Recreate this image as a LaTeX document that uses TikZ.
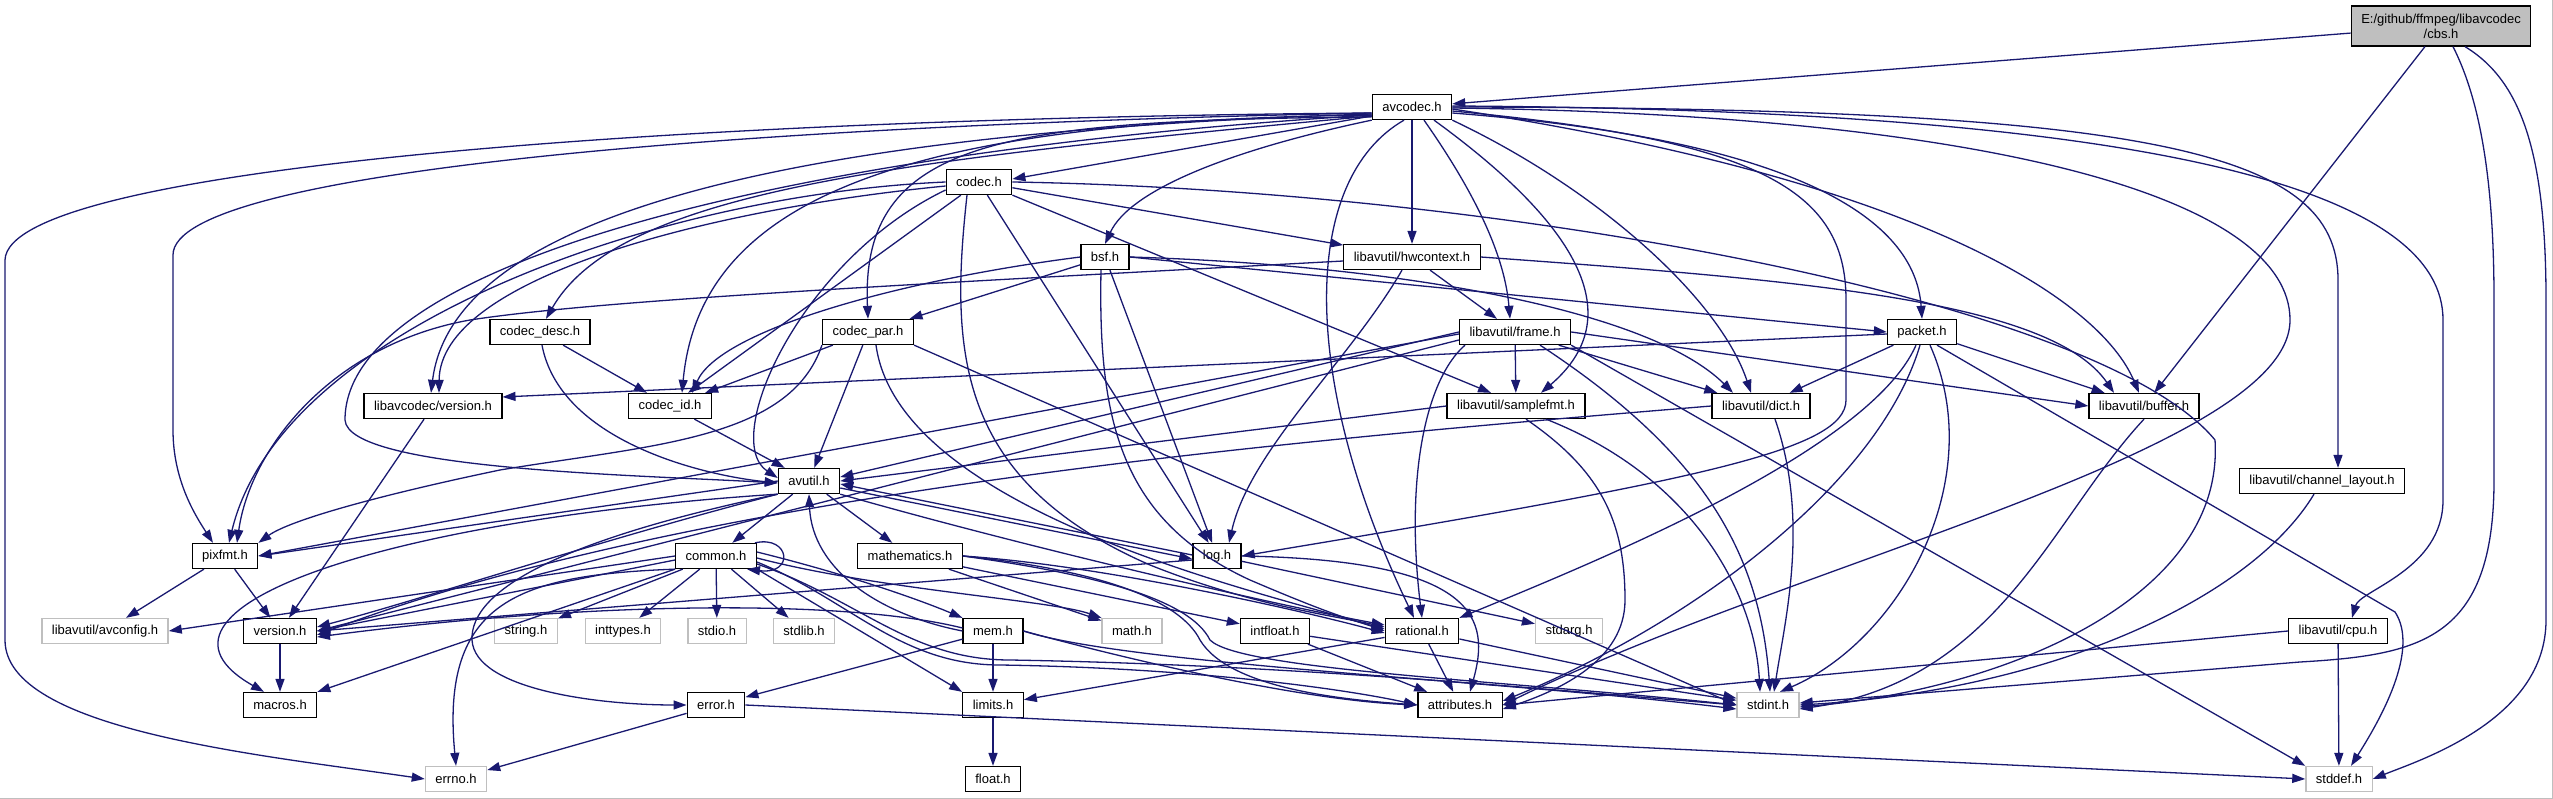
\documentclass[tikz,border=0pt]{standalone}
\usepackage{fontspec}
\newfontfamily\hdrfont{Liberation Sans}
\usetikzlibrary{arrows.meta}
\definecolor{edgeblue}{HTML}{191970}
\definecolor{sysgray}{HTML}{BFBFBF}

\begin{document}
\begin{tikzpicture}[x=1pt, y=-1pt,
  hdr/.style={draw=black, line width=1.3pt, fill=white, minimum height=25pt,
    inner xsep=10pt, inner ysep=0pt, font=\hdrfont\fontsize{13pt}{15pt}\selectfont},
  sys/.style={hdr, draw=sysgray},
  dep/.style={draw=edgeblue, line width=1.3pt, -{Triangle[length=13pt,width=9pt]}}]
\useasboundingbox (0,0) rectangle (2553,799);
\draw[sysgray, line width=1pt] (0,798) -- (2552,798) -- (2552,0);

% headers, row by row
\node[hdr, fill=sysgray, align=center, minimum height=40pt] (cbs) at (2441,26) {E:/github/ffmpeg/libavcodec\\/cbs.h};
\node[hdr] (avcodec) at (1412,107) {avcodec.h};
\node[hdr] (codec) at (979,182) {codec.h};
\node[hdr] (bsf) at (1105,257) {bsf.h};
\node[hdr] (hwctx) at (1412,257) {libavutil/hwcontext.h};
\node[hdr] (desc) at (540,332) {codec\_desc.h};
\node[hdr] (par) at (868,332) {codec\_par.h};
\node[hdr] (frame) at (1515,332) {libavutil/frame.h};
\node[hdr] (packet) at (1922,332) {packet.h};
\node[hdr] (lacver) at (433,406) {libavcodec/version.h};
\node[hdr] (codecid) at (670,406) {codec\_id.h};
\node[hdr] (sfmt) at (1516,406) {libavutil/samplefmt.h};
\node[hdr] (dict) at (1761,406) {libavutil/dict.h};
\node[hdr] (buffer) at (2144,406) {libavutil/buffer.h};
\node[hdr] (avutil) at (809,481) {avutil.h};
\node[hdr] (chlayout) at (2322,481) {libavutil/channel\_layout.h};
\node[hdr] (pixfmt) at (225,556) {pixfmt.h};
\node[hdr] (common) at (716,556) {common.h};
\node[hdr] (mathem) at (910,556) {mathematics.h};
\node[hdr] (log) at (1217,556) {log.h};
\node[sys] (avconfig) at (105,631) {libavutil/avconfig.h};
\node[hdr] (version) at (280,631) {version.h};
\node[sys] (string) at (526,631) {string.h};
\node[sys] (inttypes) at (623,631) {inttypes.h};
\node[sys] (stdio) at (717,631) {stdio.h};
\node[sys] (stdlib) at (804,631) {stdlib.h};
\node[hdr] (mem) at (993,631) {mem.h};
\node[sys] (mathh) at (1132,631) {math.h};
\node[hdr] (intfloat) at (1275,631) {intfloat.h};
\node[hdr] (rational) at (1422,631) {rational.h};
\node[sys] (stdarg) at (1569,631) {stdarg.h};
\node[hdr] (cpu) at (2338,631) {libavutil/cpu.h};
\node[hdr] (macros) at (280,705) {macros.h};
\node[hdr] (error) at (716,705) {error.h};
\node[hdr] (limits) at (993,705) {limits.h};
\node[hdr] (attrib) at (1460,705) {attributes.h};
\node[sys] (stdint) at (1768,705) {stdint.h};
\node[sys] (errno) at (456,779) {errno.h};
\node[hdr] (float) at (993,779) {float.h};
\node[sys] (stddef) at (2339,779) {stddef.h};

% straight includes
\foreach \a/\b in {cbs/avcodec, cbs/buffer, avcodec/hwctx, codec/hwctx, codec/codecid, codec/log,
    bsf/par, bsf/log, hwctx/frame, desc/codecid, par/codecid, par/avutil, frame/sfmt, frame/dict,
    packet/dict, packet/buffer, lacver/version, codecid/avutil, avutil/common, avutil/mathem,
    pixfmt/avconfig, pixfmt/version, common/string, common/inttypes, common/stdio, common/stdlib,
    mathem/mathh, mathem/intfloat, log/stdarg, mem/error, mem/limits, intfloat/attrib,
    intfloat/stdint, rational/limits, rational/attrib, rational/stdint, version/macros,
    error/errno, limits/float, cpu/stddef}
  \draw[dep] (\a) -- (\b);

\draw[dep] ([yshift=-9pt]avcodec.west) -- ([yshift=3pt]codec.east);
\draw[dep] (codec.south east) -- ([xshift=-25pt]sfmt.north);
\draw[dep] (bsf.east) -- (packet.west);
\draw[dep] (par.south east) -- (stdint.west);
\draw[dep] (frame.east) -- (buffer.west);
\draw[dep] (frame.south east) -- (stddef.north west);
\draw[dep] (frame.west) -- ([yshift=4pt]avutil.east);
\draw[dep] ([yshift=-2pt]frame.west) -- (pixfmt.east);
\draw[dep] ([yshift=-8pt]frame.west) -- (version.east);
\draw[dep] ([yshift=-2pt]packet.west) -- ([yshift=9pt]lacver.east);
\draw[dep] (sfmt.west) -- (avutil.east);
\draw[dep] ([yshift=-7pt]avutil.east) -- ([yshift=-3pt]log.west);
\draw[dep] ([yshift=1pt]log.west) -- ([yshift=-3pt]avutil.east);
\draw[dep] (avutil.west) -- (pixfmt.east);
\draw[dep] (common.west) -- (avconfig.east);
\draw[dep] ([yshift=-4pt]common.west) -- (version.east);
\draw[dep] (common.south west) -- (macros.north east);
\draw[dep] (common.south east) -- (limits.north west);
\draw[dep] ([yshift=-4pt]log.west) -- (version.east);
\draw[dep] (cpu.west) -- (attrib.east);
\draw[dep] (error.east) -- (stddef.west);

% cbs.h down the right side
\draw[dep] ([xshift=12pt]cbs.south) .. controls (2480,100) and (2494,180) .. (2494,300) -- (2494,480)
  .. controls (2494,640) and (2420,655) .. (2300,662) -- ([yshift=2pt]stdint.east);
\draw[dep] ([xshift=24pt]cbs.south) .. controls (2520,80) and (2546,150) .. (2546,300) -- (2546,620)
  .. controls (2546,720) and (2420,760) .. (stddef.east);

% avcodec.h, left side
\draw[dep] ([yshift=-6pt]avcodec.west) .. controls (700,118) and (8,165) .. (5,260) -- (5,640)
  .. controls (5,730) and (260,755) .. (errno.west);
\draw[dep] ([yshift=-6pt]avcodec.west) .. controls (750,125) and (173,170) .. (173,255) -- (173,430)
  .. controls (173,480) and (195,515) .. ([xshift=-12pt]pixfmt.north);
\draw[dep] ([yshift=-7pt]avcodec.west) .. controls (850,130) and (455,200) .. ([xshift=-2pt]lacver.north);
\draw[dep] ([yshift=-8pt]avcodec.west) .. controls (900,120) and (700,200) .. ([xshift=12pt]codecid.north);
\draw[dep] ([yshift=-8pt]avcodec.west) .. controls (800,150) and (345,260) .. (345,420)
  .. controls (348,470) and (640,475) .. ([yshift=-2pt]avutil.west);
\draw[dep] ([yshift=-9pt]avcodec.west) .. controls (900,160) and (620,190) .. ([xshift=6pt]desc.north);
\draw[dep] ([yshift=-10pt]avcodec.west) .. controls (1000,120) and (860,140) .. (par.north);
\draw[dep] (avcodec.south west) .. controls (1230,150) and (1130,190) .. (bsf.north);
\draw[dep] ([xshift=-8pt]avcodec.south) .. controls (1300,180) and (1300,380) .. ([xshift=-8pt]rational.north);
\draw[dep] ([xshift=12pt]avcodec.south) .. controls (1480,200) and (1505,260) .. ([xshift=-5pt]frame.north);
\draw[dep] ([xshift=22pt]avcodec.south) .. controls (1530,190) and (1650,300) .. ([xshift=25pt]sfmt.north);
% avcodec.h, right side
\draw[dep] (avcodec.south east) .. controls (1600,190) and (1720,300) .. ([xshift=-10pt]dict.north);
\draw[dep] ([yshift=-6pt]avcodec.east) .. controls (1800,140) and (1915,220) .. (packet.north);
\draw[dep] ([yshift=-2pt]avcodec.east) .. controls (1920,180) and (2100,300) .. ([xshift=-5pt]buffer.north);
\draw[dep] ([yshift=-4pt]avcodec.east) .. controls (1760,140) and (1846,190) .. (1846,300) -- (1846,400)
  .. controls (1846,450) and (1700,480) .. (log.east);
\draw[dep] ([yshift=-1pt]avcodec.east) .. controls (2000,115) and (2290,200) .. (2290,320)
  .. controls (2290,450) and (1800,560) .. (attrib.east);
\draw[dep] (avcodec.east) .. controls (2150,108) and (2338,150) .. (2338,280) -- ([xshift=16pt]chlayout.north);
\draw[dep] ([yshift=1pt]avcodec.east) .. controls (2200,110) and (2443,200) .. (2443,320) -- (2443,500)
  .. controls (2443,570) and (2360,590) .. ([xshift=14pt]cpu.north);

% codec.h
\draw[dep] (codec.west) .. controls (650,195) and (280,330) .. ([xshift=4pt]pixfmt.north);
\draw[dep] ([yshift=-4pt]codec.west) .. controls (700,210) and (440,280) .. ([xshift=6pt]lacver.north);
\draw[dep] ([yshift=-8pt]codec.west) .. controls (800,260) and (720,440) .. ([yshift=3pt]avutil.west);
\draw[dep] (codec.east) .. controls (1500,190) and (2100,300) .. (2215,440)
  .. controls (2225,600) and (2000,690) .. ([yshift=-2pt]stdint.east);
\draw[dep] ([xshift=-12pt]codec.south) .. controls (950,350) and (955,480) .. (1150,565)
  .. controls (1250,605) and (1330,615) .. ([yshift=4pt]rational.west);

% bsf.h, hwcontext.h
\draw[dep] (bsf.west) .. controls (900,280) and (720,330) .. ([xshift=22pt]codecid.north);
\draw[dep] (bsf.east) .. controls (1400,265) and (1650,310) .. ([xshift=-28pt]dict.north);
\draw[dep] ([xshift=-4pt]bsf.south) .. controls (1098,420) and (1120,520) .. (1250,580)
  .. controls (1320,610) and (1350,620) .. ([yshift=2pt]rational.west);
\draw[dep] ([yshift=-4pt]hwctx.west) .. controls (900,285) and (600,300) .. (470,320)
  .. controls (330,345) and (250,450) .. ([xshift=12pt]pixfmt.north);
\draw[dep] ([xshift=-10pt]hwctx.south) .. controls (1350,360) and (1250,450) .. ([xshift=12pt]log.north);
\draw[dep] (hwctx.east) .. controls (1800,280) and (2050,300) .. ([xshift=-30pt]buffer.north);

% second level
\draw[dep] ([xshift=2pt]desc.south) .. controls (560,440) and (700,475) .. ([yshift=-2pt]avutil.west);
\draw[dep] (par.south west) .. controls (790,440) and (650,445) .. (500,470)
  .. controls (380,495) and (290,520) .. (pixfmt.north east);
\draw[dep] ([xshift=8pt]par.south) .. controls (900,520) and (1300,600) .. (rational.west);
\draw[dep] ([xshift=-50pt]frame.south) .. controls (1425,380) and (1405,480) .. (rational.north);
\draw[dep] ([xshift=25pt]frame.south) .. controls (1700,450) and (1760,550) .. ([xshift=2pt]stdint.north);
\draw[dep] ([xshift=-6pt]packet.south) .. controls (1870,450) and (1600,560) .. (rational.north east);
\draw[dep] ([xshift=-2pt]packet.south) .. controls (1880,480) and (1700,620) .. ([yshift=4pt]attrib.east);
\draw[dep] ([xshift=8pt]packet.south) .. controls (1990,480) and (1900,640) .. ([xshift=12pt]stdint.north);
\draw[dep] ([xshift=15pt]packet.south) -- (2395,612) .. controls (2420,650) and (2380,720) .. ([xshift=12pt]stddef.north);
\draw[dep] ([xshift=10pt]sfmt.south) .. controls (1600,470) and (1625,520) .. (1625,600)
  .. controls (1625,660) and (1560,690) .. ([yshift=-4pt]attrib.east);
\draw[dep] ([xshift=30pt]sfmt.south) .. controls (1700,480) and (1755,600) .. ([xshift=-8pt]stdint.north);
\draw[dep] ([xshift=14pt]dict.south) .. controls (1810,520) and (1785,620) .. ([xshift=6pt]stdint.north);
\draw[dep] (dict.west) .. controls (1300,440) and (700,490) .. ([yshift=-4pt]version.east);
\draw[dep] (buffer.south) .. controls (2050,520) and (2000,680) .. ([yshift=-4pt]stdint.east);
\draw[dep] ([xshift=-8pt]chlayout.south) .. controls (2250,600) and (2050,690) .. (stdint.east);

% avutil.h and below
\draw[dep] (avutil.south west) .. controls (600,540) and (420,600) .. ([yshift=4pt]version.east);
\draw[dep] (avutil.south west) .. controls (380,520) and (120,610) .. ([xshift=-16pt]macros.north);
\draw[dep] (avutil.south west) .. controls (560,540) and (470,590) .. (472,640)
  .. controls (475,690) and (600,705) .. (error.west);
\draw[dep] (avutil.south east) .. controls (1000,540) and (1250,600) .. ([yshift=6pt]rational.west);
\draw[dep] (common.south west) .. controls (520,575) and (440,600) .. (errno.north);
\draw[dep] ([yshift=4pt]common.east) .. controls (850,575) and (920,600) .. (mem.north west);
\draw[dep] ([yshift=-2pt]common.east) .. controls (880,590) and (1050,600) .. (mathh.north west);
\draw[dep] ([yshift=-6pt]common.east) .. controls (850,600) and (900,665) .. (1000,665)
  .. controls (1200,668) and (1350,690) .. (attrib.west);
\draw[dep] ([yshift=-8pt]common.east) .. controls (860,600) and (910,660) .. (1010,660)
  .. controls (1300,665) and (1550,690) .. (stdint.west);
\draw[dep] ([xshift=-2pt]common.north east) .. controls (790,535) and (795,575) .. ([xshift=-10pt]common.south east);
\draw[dep] (mathem.east) .. controls (1100,565) and (1300,610) .. ([yshift=-2pt]rational.west);
\draw[dep] (mathem.east) .. controls (1100,570) and (1180,600) .. (1200,640)
  .. controls (1230,690) and (1350,700) .. (attrib.west);
\draw[dep] (mathem.east) .. controls (1100,575) and (1190,600) .. (1210,640)
  .. controls (1240,670) and (1500,680) .. (stdint.west);
\draw[dep] (log.east) .. controls (1480,560) and (1490,620) .. ([xshift=10pt]attrib.north);
\draw[dep] (mem.west) .. controls (880,615) and (812,570) .. (avutil.south);
\draw[dep] ([yshift=3pt]mem.west) .. controls (850,600) and (600,600) .. ([yshift=-6pt]version.east);
\draw[dep] (mem.east) .. controls (1130,660) and (1300,700) .. (attrib.west);
\draw[dep] (mem.east) .. controls (1130,665) and (1500,680) .. ([yshift=-4pt]stdint.west);
\end{tikzpicture}
\end{document}
